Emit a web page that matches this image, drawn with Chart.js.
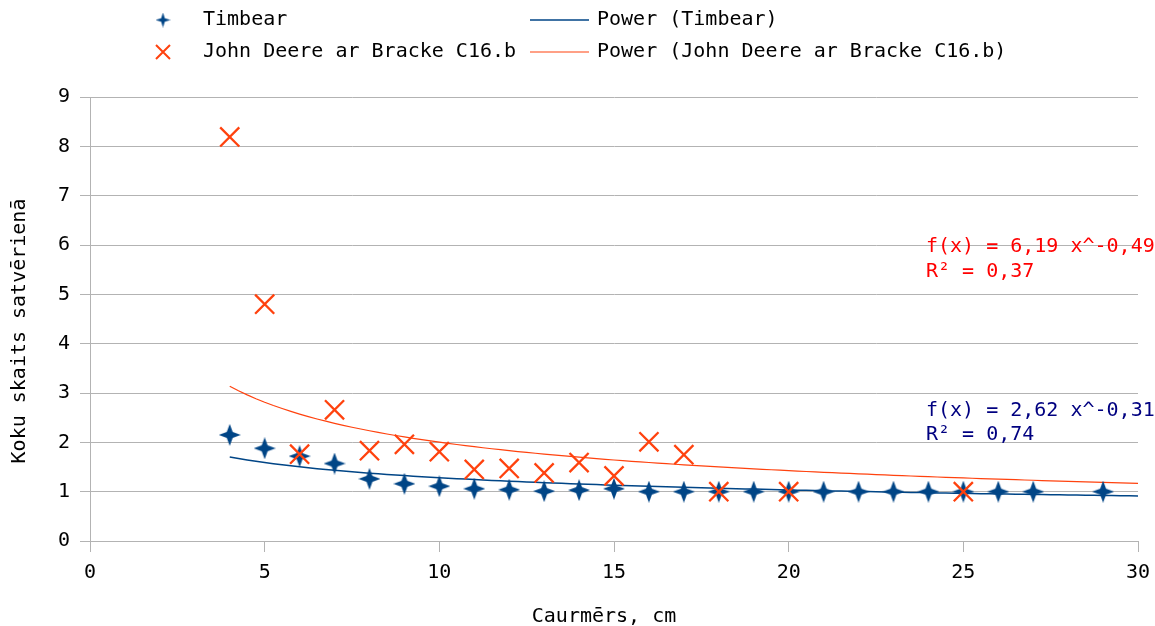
<!DOCTYPE html>
<html>
<head>
<meta charset="utf-8">
<script src="https://cdn.jsdelivr.net/npm/chart.js@4.4.1/dist/chart.umd.min.js"></script>
<style>
  html, body { margin: 0; padding: 0; background: #ffffff; }
  #wrap { width: 1155px; height: 626px; }
</style>
</head>
<body>
<div id="wrap"><canvas id="c" width="1155" height="626"></canvas></div>
<script>
// ---- Data ----
const timbearX = [4, 5, 6, 7, 8, 9, 10, 11, 12, 13, 14, 15, 16, 17, 18, 19, 20, 21, 22, 23, 24, 25, 26, 27, 29];
const timbearY = [2.15, 1.88, 1.72, 1.57, 1.26, 1.16, 1.11, 1.06, 1.04, 1.01, 1.03, 1.06, 1.0, 1.0, 1.0, 1.0, 1.0, 1.0, 1.0, 1.0, 1.0, 1.0, 1.0, 1.0, 1.0];

const deereX = [4, 5, 6, 7, 8, 9, 10, 11, 12, 13, 14, 15, 16, 17, 18, 20, 25];
const deereY = [8.19, 4.80, 1.76, 2.66, 1.83, 1.96, 1.81, 1.45, 1.47, 1.38, 1.59, 1.32, 2.01, 1.75, 1.0, 1.0, 1.0];

// Power trendlines as printed on the chart: f(x) = a * x^b
const seriesNames = ['Timbear', 'John Deere ar Bracke C16.b'];
const trendNames = ['Power (Timbear)', 'Power (John Deere ar Bracke C16.b)'];
const trendA = [2.62, 6.19];
const trendB = [-0.31, -0.49];
const trendRange = [4, 30];
const eqTexts = [['f(x) = 2,62 x^-0,31', 'R\u00B2 = 0,74'], ['f(x) = 6,19 x^-0,49', 'R\u00B2 = 0,37']];

const xTitle = 'Caurm\u0113rs, cm';
const yTitle = 'Koku skaits satv\u0113rien\u0101';

// ---- Styling ----
const FONT = '"DejaVu Sans Mono", "Liberation Mono", monospace';
const BLUE = '#004586';
const ORANGE = '#ff420e';
const GRID = '#b3b3b3';

function makeStar(size, color, innerFrac) {
  const c = document.createElement('canvas');
  c.width = size; c.height = size;
  const g = c.getContext('2d');
  const r = size / 2, ri = size * innerFrac;
  g.beginPath();
  for (let i = 0; i < 8; i++) {
    const ang = -Math.PI / 2 + i * Math.PI / 4;
    const rad = (i % 2 === 0) ? r : ri;
    g.lineTo(r + rad * Math.cos(ang), r + rad * Math.sin(ang));
  }
  g.closePath();
  g.fillStyle = color;
  g.fill();
  return c;
}
const starImg = makeStar(22, BLUE, 0.19);
const starLegend = makeStar(15, BLUE, 0.17);

function toPts(xs, ys) { return xs.map((x, i) => ({ x: x, y: ys[i] })); }
function trendPts(k) {
  const pts = [];
  for (let x = trendRange[0]; x <= trendRange[1] + 1e-9; x += 0.25) {
    pts.push({ x: x, y: trendA[k] * Math.pow(x, trendB[k]) });
  }
  return pts;
}

const overlay = {
  id: 'overlay',
  afterDraw(chart) {
    const ctx = chart.ctx;
    const xs = chart.scales.x, ys = chart.scales.y;
    const ca = chart.chartArea;
    ctx.save();
    ctx.font = '20px ' + FONT;
    ctx.textBaseline = 'middle';
    ctx.textAlign = 'left';

    // Legend (2 x 2 grid)
    const rowY = [20, 52];
    const mX = 163, tX = 203, lX0 = 530, lX1 = 589, t2X = 597;
    ctx.drawImage(starLegend, mX - 7.5, rowY[0] - 7.5, 15, 15);
    ctx.fillStyle = '#000';
    ctx.fillText(seriesNames[0], tX, rowY[0]);
    ctx.strokeStyle = ORANGE; ctx.lineWidth = 2;
    ctx.beginPath();
    ctx.moveTo(mX - 7, rowY[1] - 7); ctx.lineTo(mX + 7, rowY[1] + 7);
    ctx.moveTo(mX + 7, rowY[1] - 7); ctx.lineTo(mX - 7, rowY[1] + 7);
    ctx.stroke();
    ctx.fillText(seriesNames[1], tX, rowY[1]);
    ctx.lineWidth = 1.5; ctx.strokeStyle = BLUE;
    ctx.beginPath(); ctx.moveTo(lX0, rowY[0]); ctx.lineTo(lX1, rowY[0]); ctx.stroke();
    ctx.lineWidth = 1.2; ctx.strokeStyle = ORANGE;
    ctx.beginPath(); ctx.moveTo(lX0, rowY[1]); ctx.lineTo(lX1, rowY[1]); ctx.stroke();
    ctx.fillText(trendNames[0], t2X, rowY[0]);
    ctx.fillText(trendNames[1], t2X, rowY[1]);

    // Equations anchored to data positions
    const ex = xs.getPixelForValue(23.93);
    ctx.fillStyle = '#ff0000';
    ctx.fillText(eqTexts[1][0], ex, ys.getPixelForValue(5.96));
    ctx.fillText(eqTexts[1][1], ex, ys.getPixelForValue(5.46));
    ctx.fillStyle = '#000080';
    ctx.fillText(eqTexts[0][0], ex, ys.getPixelForValue(2.63));
    ctx.fillText(eqTexts[0][1], ex, ys.getPixelForValue(2.16));

    // Axis titles
    ctx.fillStyle = '#000';
    ctx.textAlign = 'center';
    ctx.fillText(xTitle, (ca.left + ca.right) / 2 - 10, 617);
    ctx.save();
    ctx.translate(20, (ca.top + ca.bottom) / 2 + 12);
    ctx.rotate(-Math.PI / 2);
    ctx.fillText(yTitle, 0, 0);
    ctx.restore();
    ctx.restore();
  }
};

new Chart(document.getElementById('c'), {
  type: 'scatter',
  data: {
    datasets: [
      {
        label: seriesNames[1],
        data: toPts(deereX, deereY),
        pointStyle: 'crossRot',
        pointRadius: 13.5,
        pointHoverRadius: 13.5,
        borderColor: ORANGE,
        backgroundColor: ORANGE,
        pointBorderWidth: 2.3,
        showLine: false
      },
      {
        label: seriesNames[0],
        data: toPts(timbearX, timbearY),
        pointStyle: starImg,
        pointRadius: 11,
        borderColor: BLUE,
        backgroundColor: BLUE,
        showLine: false
      },
      {
        label: trendNames[1],
        data: trendPts(1),
        showLine: true,
        borderColor: ORANGE,
        borderWidth: 1.2,
        pointRadius: 0,
        fill: false,
        tension: 0
      },
      {
        label: trendNames[0],
        data: trendPts(0),
        showLine: true,
        borderColor: BLUE,
        borderWidth: 1.5,
        pointRadius: 0,
        fill: false,
        tension: 0
      }
    ]
  },
  options: {
    responsive: false,
    animation: false,
    events: [],
    layout: { padding: { top: 97, right: 17, bottom: 0, left: 0 } },
    plugins: {
      legend: { display: false },
      tooltip: { enabled: false },
      title: { display: false }
    },
    scales: {
      x: {
        type: 'linear',
        min: 0, max: 30,
        ticks: { stepSize: 5, color: '#000', font: { family: FONT, size: 20 }, padding: 9, maxRotation: 0 },
        grid: { drawOnChartArea: false, drawTicks: true, tickLength: 11, color: GRID, lineWidth: 1 },
        border: { color: GRID, width: 1 },
        afterFit(scale) { scale.height = 85; scale.paddingRight = 0; scale.paddingLeft = 0; }
      },
      y: {
        type: 'linear',
        min: 0, max: 9,
        ticks: { stepSize: 1, color: '#000', font: { family: FONT, size: 20 }, padding: 10 },
        grid: { color: GRID, lineWidth: 1, tickLength: 10 },
        border: { color: GRID, width: 1 },
        afterFit(scale) { scale.width = 90; }
      }
    }
  },
  plugins: [overlay]
});
</script>
</body>
</html>
